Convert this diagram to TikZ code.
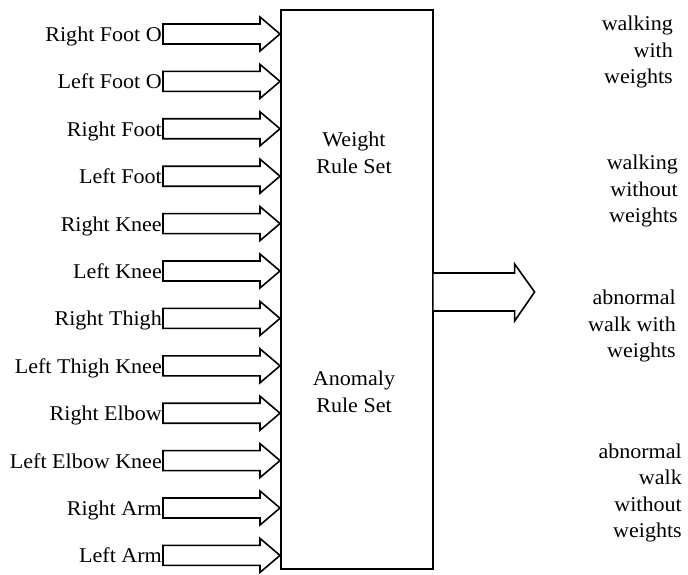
\documentclass[tikz,border=0pt]{standalone}
\usepackage{fontspec}
\setmainfont{Liberation Serif}[FakeStretch=1.05]
\begin{document}
\begin{tikzpicture}[x=1pt,y=-1pt,
  lbl/.style={font=\fontsize{21}{26.5}\selectfont, inner sep=0pt},
  barrow/.style={draw, line width=1.6pt, fill=white, line join=miter},
  mainbox/.style={draw, line width=1.6pt, inner sep=0pt, minimum width=152pt, minimum height=559pt}]
\useasboundingbox (0,0) rectangle (688,575);
\node[mainbox, anchor=north west] (box) at (280,9) {};
\node[lbl, align=center] (ws) at (354,153) {Weight\\Rule Set};
\node[lbl, align=center] (as) at (354,392) {Anomaly\\Rule Set};
\foreach \t [count=\i from 0] in {Right Foot O, Left Foot O, Right Foot, Left Foot, Right Knee, Left Knee, Right Thigh, Left Thigh Knee, Right Elbow, Left Elbow Knee, Right Arm, Left Arm} {
  \pgfmathsetmacro\yy{34+47.4*\i}
  \coordinate (r\i) at (163,\yy);
  \node[lbl, anchor=base east] (l\i) at ([xshift=-1pt,yshift=-7.5pt]r\i) {\t};
  \draw[barrow] ([yshift=10pt]r\i) -- ++(97,0) -- ++(0,-7) -- (box.west |- r\i) -- ++(-20,17) -- ++(0,-7) -- ([yshift=-10pt]r\i) -- cycle;
}
\coordinate (o) at (box.east |- 0,292);
\draw[barrow] ([yshift=19pt]o) -- ++(81,0) -- ++(0,-9) -- ++(20,28) -- ++(-20,29) -- ++(0,-10) -- ([yshift=-19pt]o);
\node[lbl, align=right, anchor=east] (o1) at (673,52) {walking\\with\\weights};
\node[lbl, align=right, anchor=east] (o2) at (678,191) {walking\\without\\weights};
\node[lbl, align=right, anchor=east] (o3) at (676,326) {abnormal\\walk with\\weights};
\node[lbl, align=right, anchor=east] (o4) at (682,493) {abnormal\\walk\\without\\weights};
\end{tikzpicture}
\end{document}
